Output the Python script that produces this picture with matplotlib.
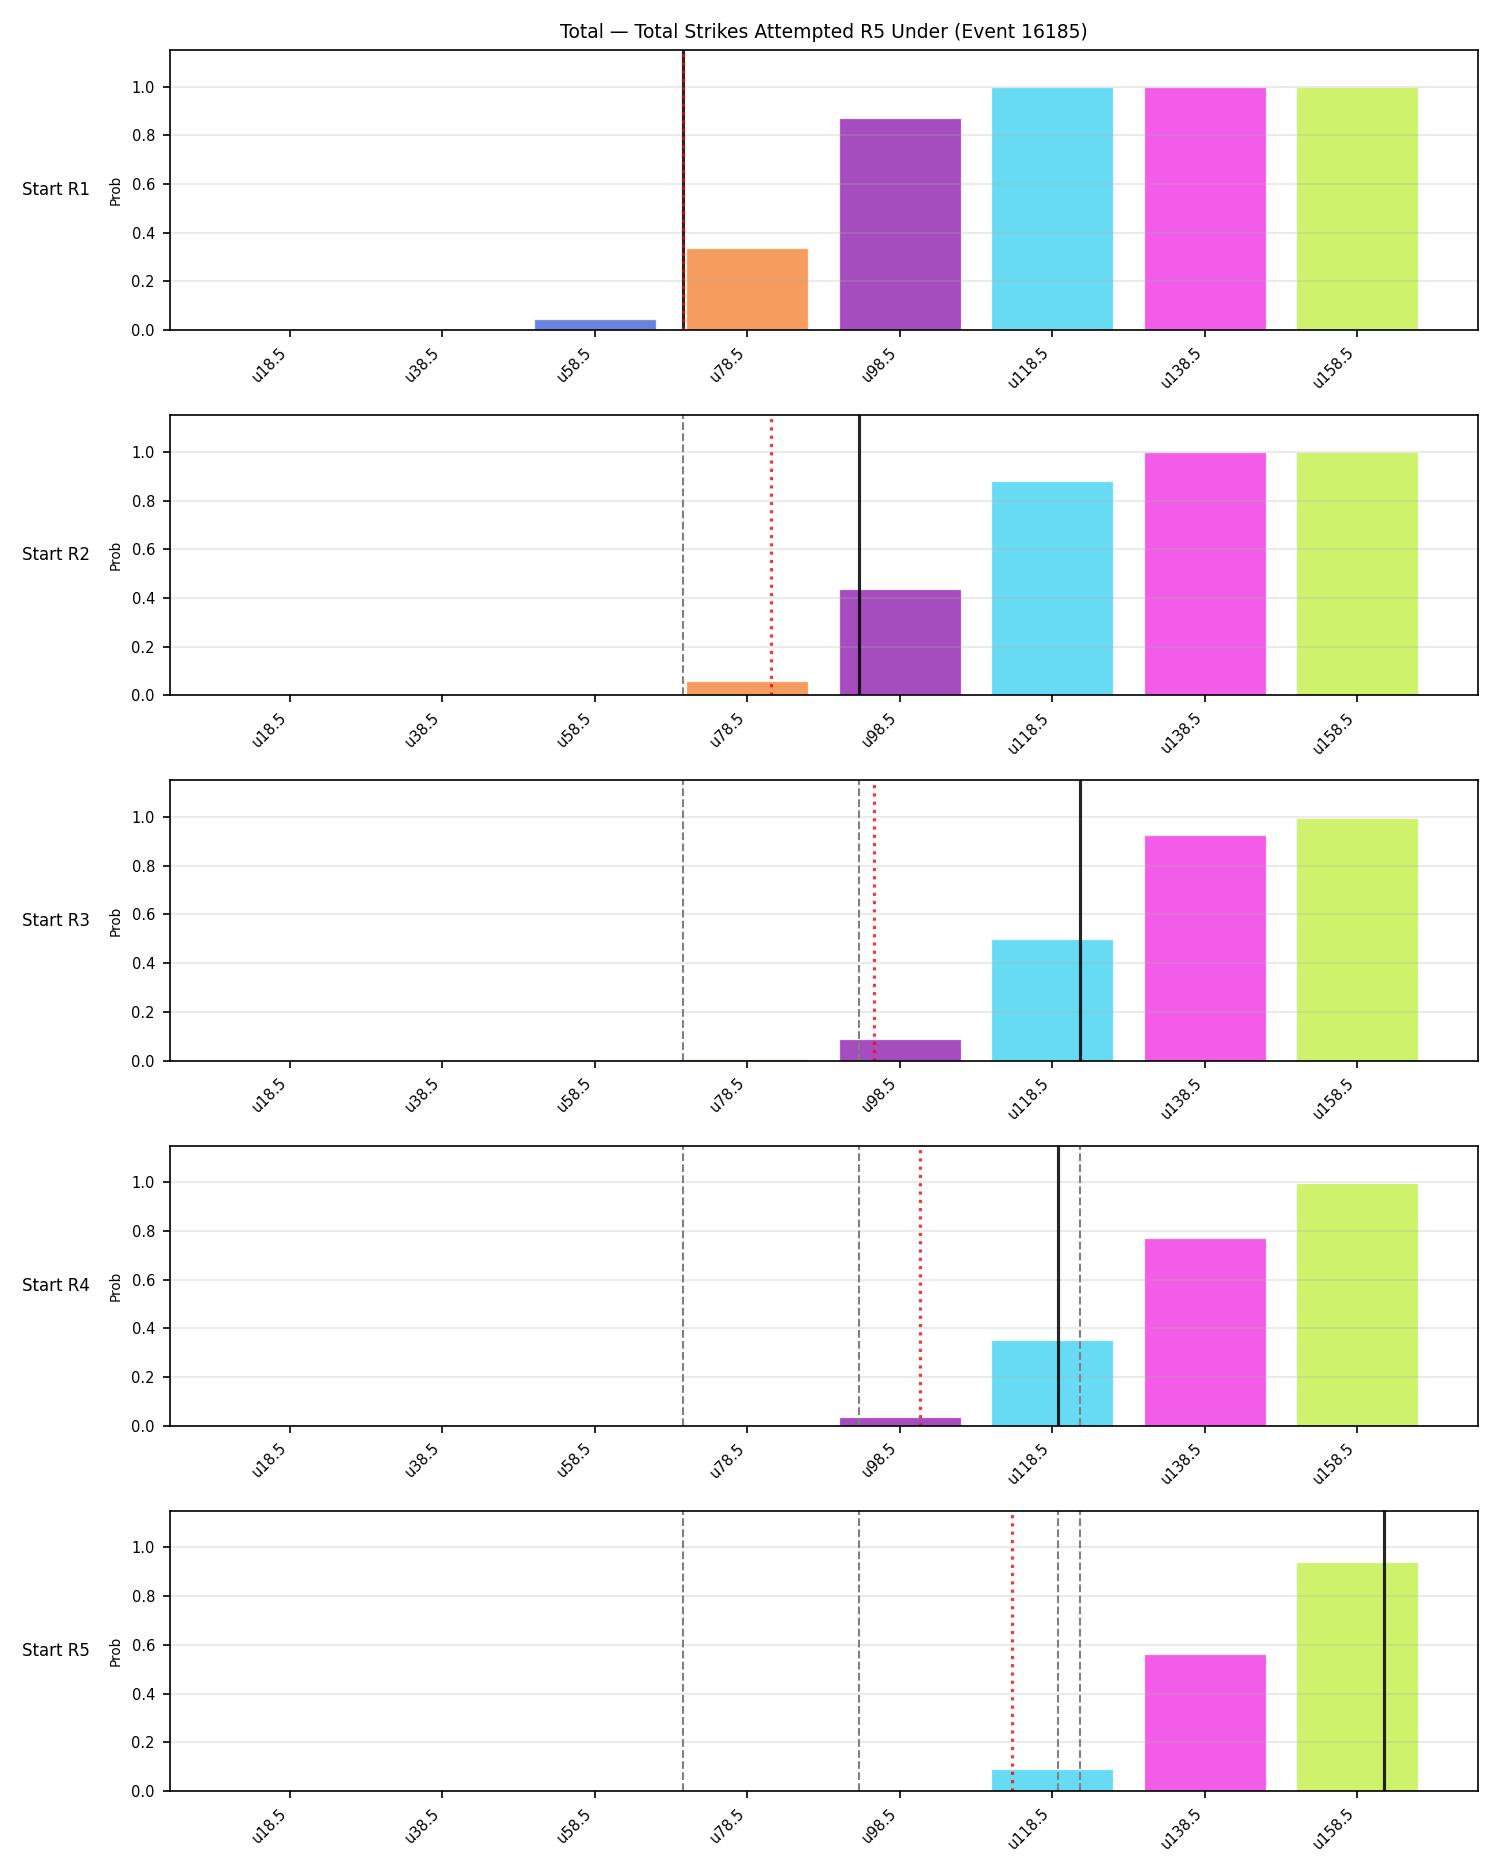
import numpy as np
import matplotlib
matplotlib.use('Agg')
import matplotlib.pyplot as plt

# under lines (strikes) and probability of the under hitting, per round start
lines = [18.5, 38.5, 58.5, 78.5, 98.5, 118.5, 138.5, 158.5]
labels = ['u18.5', 'u38.5', 'u58.5', 'u78.5', 'u98.5', 'u118.5', 'u138.5', 'u158.5']
rounds = ['Start R1', 'Start R2', 'Start R3', 'Start R4', 'Start R5']

prob_r1 = [0.0, 0.0, 0.044, 0.336, 0.870, 0.998, 0.998, 0.998]
prob_r2 = [0.0, 0.0, 0.0, 0.059, 0.438, 0.882, 0.998, 0.998]
prob_r3 = [0.0, 0.0, 0.0, 0.005, 0.089, 0.499, 0.927, 0.998]
prob_r4 = [0.0, 0.0, 0.0, 0.0, 0.037, 0.352, 0.773, 0.998]
prob_r5 = [0.0, 0.0, 0.0, 0.0, 0.0, 0.089, 0.561, 0.940]
probs = [prob_r1, prob_r2, prob_r3, prob_r4, prob_r5]

# projected total at each start (black) and pace estimate (red dotted)
projected = [70.1, 93.2, 122.1, 119.2, 162.0]
pace = [70.1, 81.6, 95.1, 101.1, 113.2]

colors = ['#e6194b', '#3cb44b', '#4565d6', '#f38436',
          '#8f1faf', '#42d2f2', '#ef33e3', '#c2ef46']

title = 'Total \u2014 Total Strikes Attempted R5 Under (Event 16185)'


def to_x(v):
    # map a strike total onto the bar index scale
    return (v - lines[0]) / (lines[1] - lines[0])


fig, axes = plt.subplots(5, 1, figsize=(10, 12.5), dpi=150)
fig.subplots_adjust(left=0.113, right=0.985, top=0.9733, bottom=0.0448, hspace=0.304)

x = np.arange(len(labels))
for i, ax in enumerate(axes):
    ax.bar(x, probs[i], width=0.8, color=colors, alpha=0.8,
           edgecolor='white', linewidth=0.6)
    for prev in projected[:i]:
        ax.axvline(to_x(prev), color='gray', linestyle='--', linewidth=1.0)
    ax.axvline(to_x(projected[i]), color='black', linewidth=1.5, alpha=0.85)
    ax.axvline(to_x(pace[i]), color='red', linestyle=':', linewidth=1.5, alpha=0.8)

    ax.set_ylim(0, 1.15)
    ax.set_yticks([0.0, 0.2, 0.4, 0.6, 0.8, 1.0])
    ax.set_xticks(x)
    ax.set_xticklabels(labels, rotation=45, ha='right', fontsize=7)
    ax.tick_params(axis='y', labelsize=7)
    ax.set_ylabel('Prob', fontsize=6.5)
    ax.grid(axis='y', alpha=0.3)
    ax.text(-0.061, 0.5, rounds[i], transform=ax.transAxes,
            ha='right', va='center', fontsize=8)

axes[0].set_title(title, fontsize=9)

fig.savefig('out.png', dpi=150)
